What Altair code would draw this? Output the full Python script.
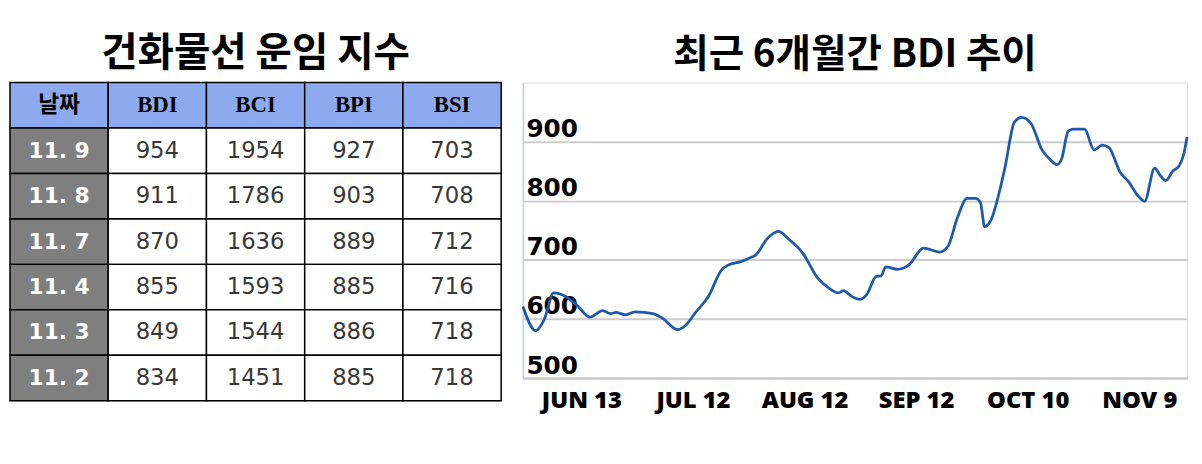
import altair as alt
import pandas as pd

# ---------------- table data ----------------
HEADERS = ["날짜", "BDI", "BCI", "BPI", "BSI"]
DATES = ["11. 9", "11. 8", "11. 7", "11. 4", "11. 3", "11. 2"]
BDI = [954, 911, 870, 855, 849, 834]
BCI = [1954, 1786, 1636, 1593, 1544, 1451]
BPI = [927, 903, 889, 885, 886, 885]
BSI = [703, 708, 712, 716, 718, 718]

# ---------------- line data (BDI, last 6 months) ----------------
POS = [0.0, 2.4, 4.0, 5.8, 7.4, 10.1, 12.6, 15.0, 16.5, 17.5, 19.3, 21.1, 24.5,
       26.3, 29.1, 30.6, 32.5, 34.9, 37.4, 38.6, 41.0, 42.6, 43.8, 46.0, 48.1,
       49.9, 52.7, 55.5, 57.6, 59.4, 60.3, 61.9, 63.4, 64.7, 66.5, 67.4, 68.3,
       70.5, 72.6, 75.4, 78.4, 80.0, 81.8, 83.6, 85.2, 86.1, 86.9, 87.9, 90.7,
       92.5, 93.8, 95.6, 97.7, 99.3, 100.5, 101.4, 102.6, 103.5, 105.7, 107.5,
       109.0, 110.3, 112.4, 113.9, 115.8, 117.0, 118.9, 120.0, 121.0, 122.3,
       123.5, 124.4, 125.0]
VAL = [621, 580, 599, 644, 641, 624, 603, 614, 609, 611, 607, 612, 609, 601,
       582, 589, 611, 638, 683, 691, 697, 703, 708, 736, 748, 736, 711, 669,
       652, 644, 648, 638, 633, 641, 672, 673, 688, 684, 691, 720, 713, 723,
       772, 804, 804, 797, 756, 764, 855, 933, 941, 931, 886, 869, 861, 871,
       917, 921, 921, 886, 894, 890, 848, 833, 808, 799, 855, 842, 834, 850,
       859, 880, 908]
TICK_POS = [11, 32, 53, 74, 95, 116]
TICK_LABELS = ["JUN 13", "JUL 12", "AUG 12", "SEP 12", "OCT 10", "NOV 9"]
Y_TICKS = [500, 600, 700, 800, 900]

# ---------------- build table ----------------
recs = []
for c, h in enumerate(HEADERS):
    recs.append(dict(r=0, c=c, txt=h, kind="hdr_ko" if c == 0 else "hdr"))
for i, d in enumerate(DATES):
    recs.append(dict(r=i + 1, c=0, txt=d, kind="date"))
    for c, series in enumerate([BDI, BCI, BPI, BSI], start=1):
        recs.append(dict(r=i + 1, c=c, txt=str(series[i]), kind="body"))
tdf = pd.DataFrame(recs)

tbase = alt.Chart(tdf).encode(
    x=alt.X("c:O", axis=None, scale=alt.Scale(paddingInner=0, paddingOuter=0)),
    y=alt.Y("r:O", axis=None, scale=alt.Scale(paddingInner=0, paddingOuter=0)),
)
cells = tbase.mark_rect(stroke="black", strokeWidth=1.5).encode(
    color=alt.Color("kind:N", legend=None,
                    scale=alt.Scale(domain=["hdr_ko", "hdr", "date", "body"],
                                    range=["#8eaaee", "#8eaaee", "#7f7f7f", "#ffffff"]))
)
t_hdr = tbase.mark_text(font="Liberation Serif", fontWeight="bold", fontSize=23,
                        color="black").encode(text="txt:N").transform_filter(
    alt.datum.kind == "hdr")
t_hdr_ko = tbase.mark_text(font="Noto Sans CJK KR", fontWeight="bold", fontSize=23,
                           color="black").encode(text="txt:N").transform_filter(
    alt.datum.kind == "hdr_ko")
t_date = tbase.mark_text(font="DejaVu Sans", fontWeight="bold", fontSize=22,
                         color="white").encode(text="txt:N").transform_filter(
    alt.datum.kind == "date")
t_body = tbase.mark_text(font="DejaVu Sans", fontSize=23,
                         color="#383838").encode(text="txt:N").transform_filter(
    alt.datum.kind == "body")

table = alt.layer(cells, t_hdr, t_hdr_ko, t_date, t_body).properties(
    width=497, height=322,
    title=alt.TitleParams("건화물선 운임 지수", font="Noto Sans CJK KR", fontSize=40,
                          fontWeight="bold", color="black", anchor="middle", offset=8),
)

# ---------------- line chart ----------------
ldf = pd.DataFrame({"pos": POS, "val": VAL})
label_expr = " : ".join(
    f"datum.value == {p} ? '{l}'" for p, l in zip(TICK_POS, TICK_LABELS)) + " : ''"

line = alt.Chart(ldf).mark_line(color="#1f5aa8", strokeWidth=2.8,
                                interpolate="monotone").encode(
    x=alt.X("pos:Q",
            scale=alt.Scale(domain=[0, 125], nice=False, zero=False),
            axis=alt.Axis(values=TICK_POS, labelExpr=label_expr, grid=False,
                          ticks=False, domainColor="#c8c8c8", domainWidth=2,
                          labelFont="Open Sans", labelFontSize=24,
                          labelFontWeight=800, labelColor="black",
                          labelPadding=11, labelFlush=False, labelOverlap=False,
                          title=None)),
    y=alt.Y("val:Q",
            scale=alt.Scale(domain=[500, 1000], nice=False, zero=False),
            axis=alt.Axis(values=Y_TICKS, grid=True, gridColor="#cccccc",
                          gridWidth=2, ticks=False, tickSize=0,
                          domainColor="#c3cddc", domainWidth=1.5,
                          labelAlign="left", labelBaseline="alphabetic",
                          labelPadding=-3, labelOffset=-5,
                          labelFont="DejaVu Sans", labelFontWeight="bold",
                          labelFontSize=25, labelColor="black",
                          labelFlush=False, labelOverlap=False, title=None)),
).properties(
    width=672, height=299,
    title=alt.TitleParams("최근 6개월간 BDI 추이", font="Noto Sans CJK KR", fontSize=39,
                          fontWeight="bold", color="black", anchor="middle", offset=8),
)

chart = alt.hconcat(table, line, spacing=13).properties(
    padding={"left": 0, "top": 23, "right": 0, "bottom": 0}
).configure_view(stroke=None).configure(background="white")

chart.save("out.html", embed_options={"renderer": "svg", "actions": False})
